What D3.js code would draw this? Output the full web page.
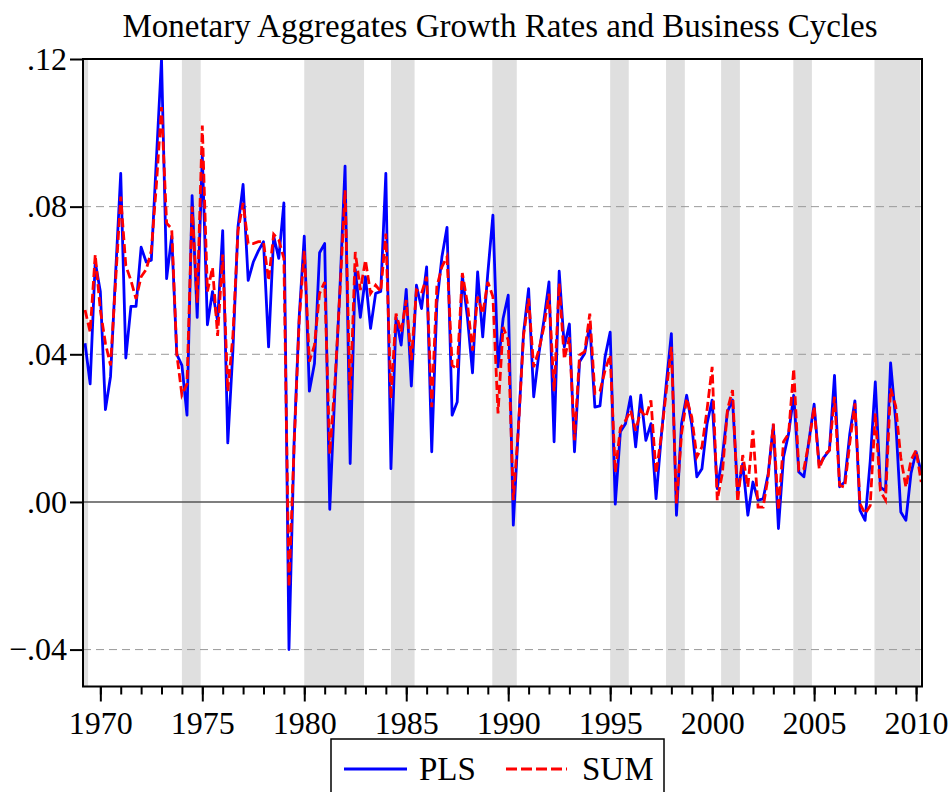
<!DOCTYPE html>
<html>
  <head>
    <meta charset="utf-8">
    <title>Monetary Aggregates Growth Rates and Business Cycles</title>
    <script src="https://d3js.org/d3.v7.min.js"></script>
    <style>
      body { margin: 0; background: #fff; }
      text { font-family: "Liberation Serif", "Times New Roman", serif; fill: #000; }
    </style>
  </head>
  <body>
    <svg id="chart" width="952" height="792"></svg>
    <script>
// quarterly observations, 1969Q2 .. 2010Q2
var firstYear = 1969, firstQuarter = 2;

var pls = [
  0.043, 0.032, 0.065,
  0.057, 0.025, 0.034, 0.062,
  0.089, 0.039, 0.053, 0.053,
  0.069, 0.065, 0.0655, 0.093,
  0.120, 0.0605, 0.072, 0.040,
  0.037, 0.0235, 0.083, 0.050,
  0.094, 0.048, 0.057, 0.049,
  0.0735, 0.016, 0.041, 0.0745,
  0.086, 0.060, 0.065, 0.068,
  0.0705, 0.042, 0.072, 0.066,
  0.081, -0.040, 0.016, 0.050,
  0.072, 0.030, 0.0375, 0.0675,
  0.070, -0.002, 0.030, 0.058,
  0.091, 0.0104, 0.063, 0.050,
  0.061, 0.047, 0.0565, 0.057,
  0.089, 0.009, 0.050, 0.0425,
  0.0576, 0.0314, 0.0587, 0.0524,
  0.0637, 0.0136, 0.0538, 0.0664,
  0.0744, 0.0235, 0.0271, 0.0614,
  0.050, 0.035, 0.0623, 0.0447,
  0.062, 0.0777, 0.0366, 0.0497,
  0.056, -0.0063, 0.0203, 0.0456,
  0.0578, 0.0285, 0.040, 0.0492,
  0.0596, 0.0163, 0.0625, 0.042,
  0.0482, 0.0136, 0.038, 0.0402,
  0.048, 0.0257, 0.026, 0.0393,
  0.046, -0.0006, 0.019, 0.0212,
  0.0285, 0.0149, 0.0289, 0.0167,
  0.0212, 0.0009, 0.0174, 0.032,
  0.0456, -0.0036, 0.0212, 0.0289,
  0.021, 0.0068, 0.009, 0.0212,
  0.0276, 0.0036, 0.0122, 0.0244,
  0.0276, 0.0027, 0.0104, -0.0036,
  0.0054, 0.0005, 0.0008, 0.0077,
  0.0208, -0.0072, 0.0122, 0.0185,
  0.0289, 0.0081, 0.0068, 0.0167,
  0.0265, 0.0099, 0.0122, 0.014,
  0.0343, 0.0041, 0.0054, 0.0185,
  0.0274, -0.0023, -0.005, 0.011,
  0.0325, 0.004, 0.003, 0.0377,
  0.022, -0.0027, -0.005, 0.0077,
  0.0136, 0.0081
];

var sum = [
  0.052, 0.046, 0.067,
  0.052, 0.043, 0.037, 0.060,
  0.0827, 0.064, 0.060, 0.055,
  0.061, 0.063, 0.068, 0.086,
  0.107, 0.0755, 0.074, 0.040,
  0.029, 0.032, 0.080, 0.054,
  0.102, 0.057, 0.0635, 0.045,
  0.067, 0.030, 0.045, 0.0735,
  0.081, 0.070, 0.070, 0.0705,
  0.0705, 0.060, 0.0725, 0.071,
  0.066, -0.023, 0.015, 0.049,
  0.068, 0.038, 0.0425, 0.0565,
  0.0596, 0.013, 0.032, 0.057,
  0.0844, 0.0276, 0.0677, 0.0574,
  0.0655, 0.0565, 0.0587, 0.057,
  0.0727, 0.028, 0.051, 0.046,
  0.0547, 0.0384, 0.0574, 0.0565,
  0.061, 0.0257, 0.0583, 0.0637,
  0.0664, 0.037, 0.036, 0.062,
  0.0538, 0.041, 0.0556, 0.051,
  0.0596, 0.0556, 0.024, 0.0474,
  0.0438, 0.0005, 0.020, 0.045,
  0.0551, 0.0365, 0.0411, 0.0474,
  0.0564, 0.030, 0.0592, 0.0387,
  0.0446, 0.0167, 0.0398, 0.0407,
  0.051, 0.0294, 0.030, 0.0357,
  0.0398, 0.008, 0.020, 0.022,
  0.0248, 0.0193, 0.0248, 0.023,
  0.0275, 0.0077, 0.0176, 0.030,
  0.042, -0.0004, 0.0185, 0.028,
  0.023, 0.0122, 0.0149, 0.025,
  0.0366, 0.0005, 0.0077, 0.025,
  0.0303, 0.0, 0.0127, 0.004,
  0.0194, -0.0014, -0.0014, 0.007,
  0.0212, -0.0023, 0.0163, 0.0185,
  0.0361, 0.0086, 0.009, 0.0163,
  0.0258, 0.009, 0.0127, 0.014,
  0.0285, 0.0045, 0.004, 0.016,
  0.0267, -0.0005, -0.0032, -0.001,
  0.024, 0.003, 0.0005, 0.0307,
  0.026, 0.012, 0.004, 0.0113,
  0.014, 0.0054
];

// business cycle shading (start, end in years)
var cycleStart = [1969.15, 1974.0, 1980.0, 1984.25, 1989.22, 1995.0, 1997.74, 2000.44, 2003.98, 2007.96];
var cycleEnd   = [1969.4, 1974.92, 1982.93, 1985.41, 1990.42, 1995.91, 1998.66, 2001.36, 2004.89, 2010.2];

var yTicks = [-0.04, 0, 0.04, 0.08, 0.12];
var majorYears = [1970, 1975, 1980, 1985, 1990, 1995, 2000, 2005, 2010];
var minorYears = d3.range(1970, 2011);

var seriesNames = ["PLS", "SUM"];

// layout
var plotLeft = 83, plotRight = 922, plotTop = 59, plotBottom = 686.5;

var svg = d3.select("#chart");

var x = d3.scaleLinear().domain([1969.15, 2010.29]).range([plotLeft, plotRight]);
var y = d3.scaleLinear().domain([-0.05, 0.12]).range([plotBottom, plotTop]);

function dateOf(i) {
  return firstYear + (firstQuarter - 1) / 4 + i * 0.25;
}

svg.append("defs").append("clipPath").attr("id", "plot-clip")
  .append("rect")
  .attr("x", plotLeft).attr("y", plotTop)
  .attr("width", plotRight - plotLeft).attr("height", plotBottom - plotTop);

// shading
svg.append("g")
  .selectAll("rect")
  .data(cycleStart)
  .enter().append("rect")
  .attr("x", function(d) { return x(d); })
  .attr("y", plotTop)
  .attr("width", function(d, i) { return x(cycleEnd[i]) - x(d); })
  .attr("height", plotBottom - plotTop)
  .attr("fill", "#dfdfdf");

// grid lines
svg.append("g")
  .selectAll("line")
  .data(yTicks.filter(function(d) { return d !== 0 && d !== 0.12; }))
  .enter().append("line")
  .attr("x1", plotLeft).attr("x2", plotRight)
  .attr("y1", function(d) { return y(d); })
  .attr("y2", function(d) { return y(d); })
  .attr("stroke", "#999")
  .attr("stroke-width", 1)
  .attr("stroke-dasharray", "8,5");

svg.append("line")
  .attr("x1", plotLeft).attr("x2", plotRight)
  .attr("y1", y(0)).attr("y2", y(0))
  .attr("stroke", "#555")
  .attr("stroke-width", 1.5);

// series
var line = d3.line()
  .x(function(d, i) { return x(dateOf(i)); })
  .y(function(d) { return y(d); });

var plot = svg.append("g").attr("clip-path", "url(#plot-clip)");

plot.append("path")
  .datum(pls)
  .attr("d", line)
  .attr("fill", "none")
  .attr("stroke", "#0000ff")
  .attr("stroke-width", 2.8)
  .attr("stroke-linejoin", "round");

plot.append("path")
  .datum(sum)
  .attr("d", line)
  .attr("fill", "none")
  .attr("stroke", "#ff0000")
  .attr("stroke-width", 2.8)
  .attr("stroke-dasharray", "9,4");

// frame
svg.append("rect")
  .attr("x", plotLeft).attr("y", plotTop)
  .attr("width", plotRight - plotLeft).attr("height", plotBottom - plotTop)
  .attr("fill", "none")
  .attr("stroke", "#000")
  .attr("stroke-width", 2);

// axes
var fmt = function(d) { return d3.format(".2f")(d).replace("0.", "."); };

var yAxis = svg.append("g")
  .attr("transform", "translate(" + plotLeft + ",0)")
  .call(d3.axisLeft(y).tickValues(yTicks).tickFormat(fmt).tickSize(13).tickPadding(3));

var xMinor = svg.append("g")
  .attr("transform", "translate(0," + plotBottom + ")")
  .call(d3.axisBottom(x).tickValues(minorYears).tickFormat("").tickSize(8));

var xMajor = svg.append("g")
  .attr("transform", "translate(0," + plotBottom + ")")
  .call(d3.axisBottom(x).tickValues(majorYears).tickFormat(d3.format("d")).tickSize(15).tickPadding(10));

[yAxis, xMinor, xMajor].forEach(function(g) {
  g.select(".domain").remove();
  g.selectAll(".tick line").attr("stroke", "#000").attr("stroke-width", 2);
  g.selectAll(".tick text")
    .style("font-family", "'Liberation Serif', 'Times New Roman', serif")
    .style("font-size", "32px")
    .attr("fill", "#000");
});

// title
svg.append("text")
  .attr("x", 500)
  .attr("y", 37)
  .attr("text-anchor", "middle")
  .style("font-size", "33px")
  .text("Monetary Aggregates Growth Rates and Business Cycles");

// legend
var legend = svg.append("g");
legend.append("rect")
  .attr("x", 331).attr("y", 739)
  .attr("width", 333).attr("height", 70)
  .attr("fill", "#fff")
  .attr("stroke", "#000")
  .attr("stroke-width", 1.5);

legend.append("line")
  .attr("x1", 344).attr("x2", 407)
  .attr("y1", 769).attr("y2", 769)
  .attr("stroke", "#0000ff").attr("stroke-width", 2.8);

legend.append("text")
  .attr("x", 419).attr("y", 780)
  .style("font-size", "33px")
  .text(seriesNames[0]);

legend.append("line")
  .attr("x1", 506).attr("x2", 567)
  .attr("y1", 769).attr("y2", 769)
  .attr("stroke", "#ff0000").attr("stroke-width", 2.8)
  .attr("stroke-dasharray", "11,4");

legend.append("text")
  .attr("x", 582).attr("y", 780)
  .style("font-size", "33px")
  .text(seriesNames[1]);
    </script>
  </body>
</html>
